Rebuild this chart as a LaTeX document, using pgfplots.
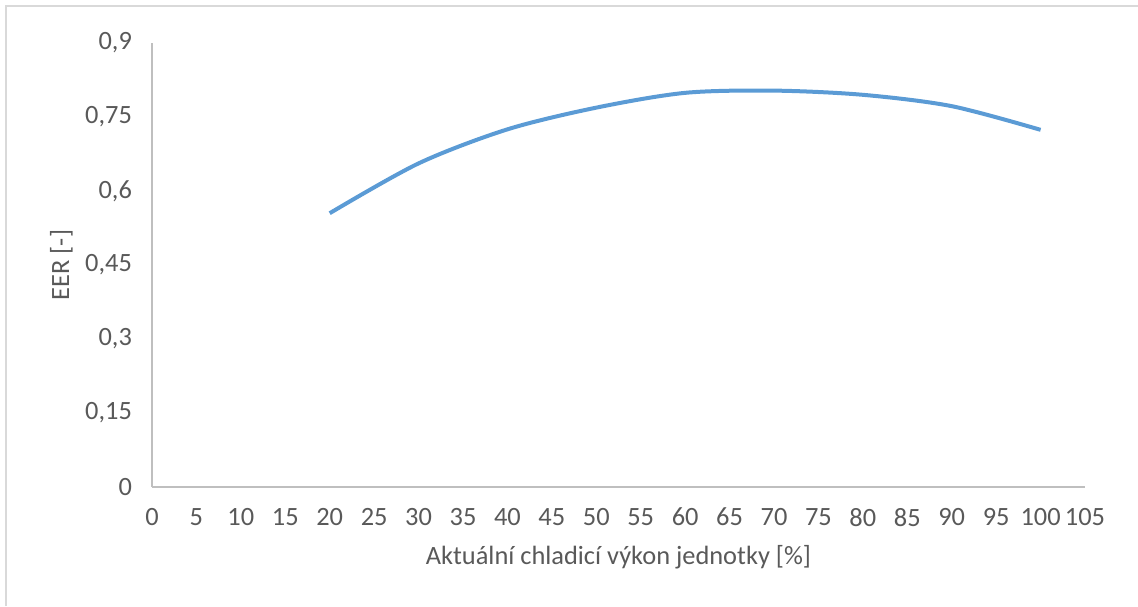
\documentclass[border=0pt]{standalone}
\usepackage{pgfplots}
\pgfplotsset{compat=1.18}
\usepackage{fontspec}
\setmainfont{Carlito}
\definecolor{txt}{HTML}{595959}
\definecolor{axl}{HTML}{BFBFBF}
\definecolor{brd}{HTML}{D9D9D9}
\definecolor{ser}{HTML}{5B9BD5}
\begin{document}
\begin{tikzpicture}
\path[use as bounding box] (0,0) rectangle (569pt,303pt);
\draw[brd, line width=0.75pt] (3pt,0pt) -- (3pt,300pt) -- (569pt,300pt);
\begin{axis}[
  at={(76pt,59.5pt)}, anchor=origin,
  scale only axis, width=466.5pt, height=222pt,
  xmin=0, xmax=105, ymin=0, ymax=0.9,
  axis lines*=left,
  axis line style={axl, line width=0.75pt, -},
  xtick={0,5,...,105},
  ytick={0,0.15,0.3,0.45,0.6,0.75,0.9},
  yticklabels={0,{0,15},{0,3},{0,45},{0,6},{0,75},{0,9}},
  major tick length=0pt,
  tick style={draw=none},
  /pgf/number format/assume math mode=true,
  font=\fontsize{13.2pt}{15pt}\selectfont,
  tick label style={txt},
  xticklabel style={yshift=-7pt},
  yticklabel style={xshift=-6.5pt},
  xlabel={Aktuální chladicí výkon jednotky [\%]},
  ylabel={EER [-]},
  label style={txt},
  xlabel style={at={(axis description cs:0.5,0)}, anchor=center, yshift=-35pt},
  ylabel style={at={(axis description cs:-0.097,0.5)}, anchor=center},
  clip=false,
]
\addplot[ser, line width=2pt, smooth, tension=0.5] coordinates {
  (20,0.555) (30,0.656) (40,0.725) (50,0.769) (60,0.799)
  (70,0.8035) (80,0.795) (90,0.772) (100,0.724)
};
\end{axis}
\end{tikzpicture}
\end{document}
